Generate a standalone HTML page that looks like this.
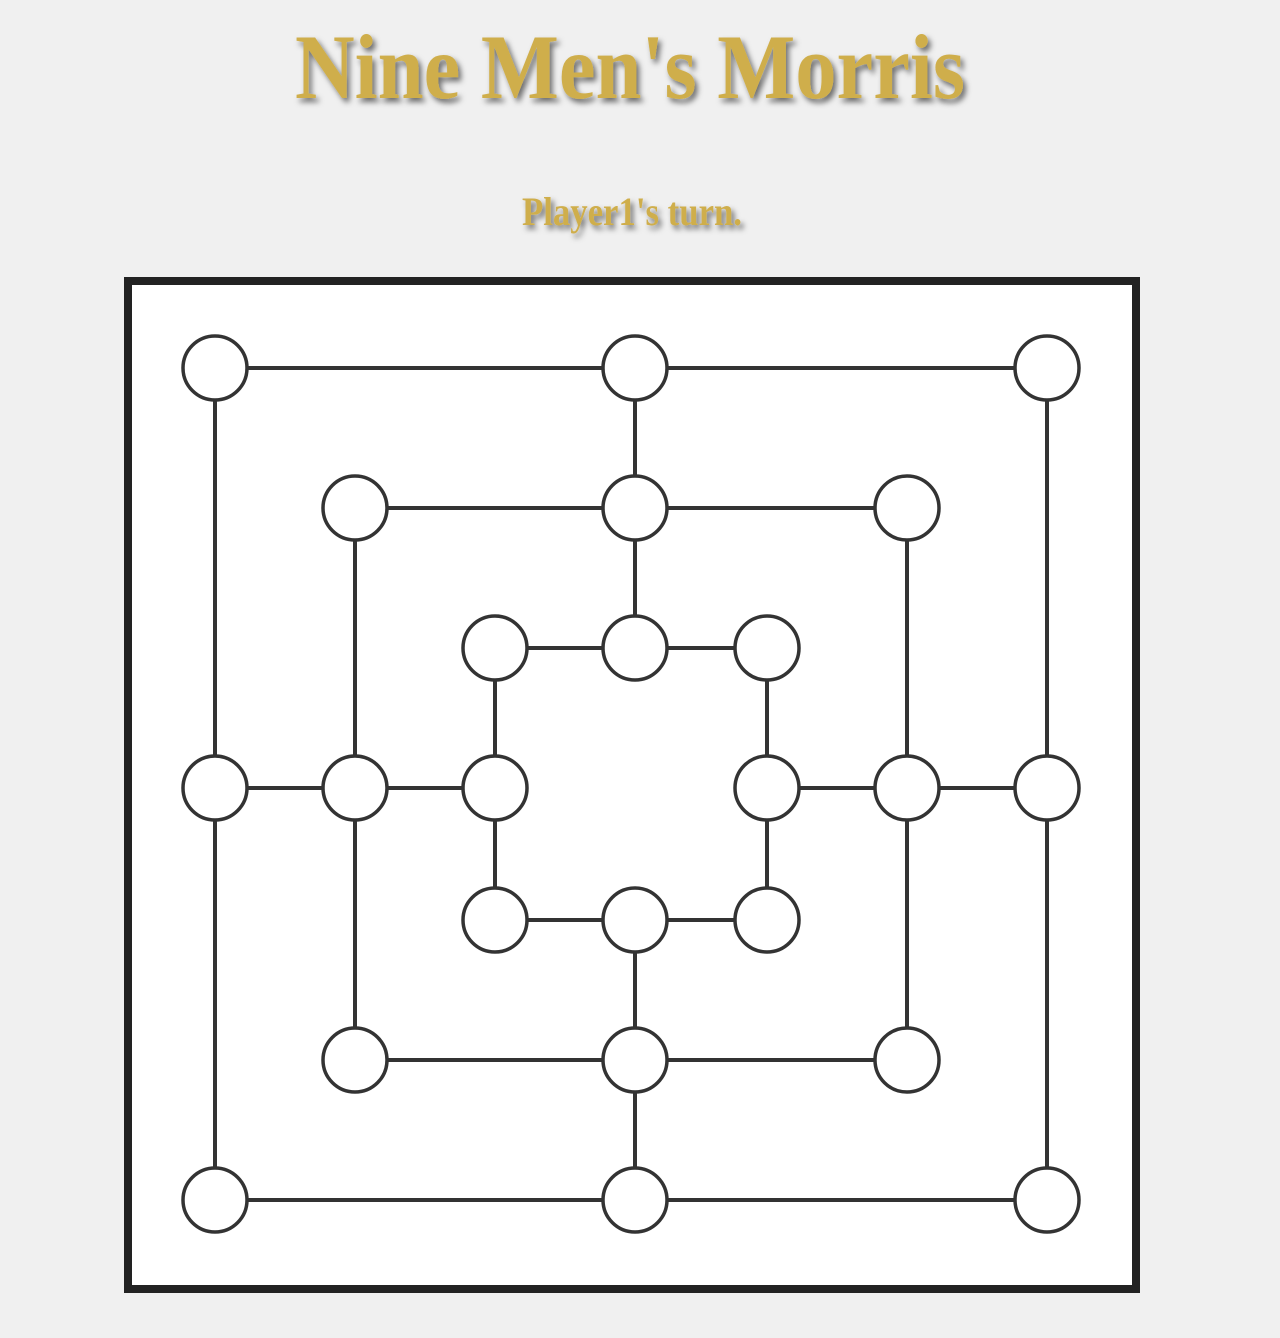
<!DOCTYPE html>
<html><head><meta charset="utf-8"><style>
html,body{margin:0;padding:0;background:#f0f0f0;}
svg{display:block;}
</style></head><body>
<svg width="1280" height="1338" viewBox="0 0 1280 1338">
<defs><filter id="sh" x="-10%" y="-30%" width="120%" height="160%"><feDropShadow dx="3" dy="4" stdDeviation="3" flood-color="#000" flood-opacity="0.55"/></filter></defs>
<text x="295" y="98" textLength="670" lengthAdjust="spacingAndGlyphs" font-family="Liberation Serif, serif" font-weight="bold" font-size="92" fill="#cfae4c" filter="url(#sh)">Nine Men's Morris</text>
<text x="522" y="225" textLength="220" lengthAdjust="spacingAndGlyphs" font-family="Liberation Serif, serif" font-weight="bold" font-size="40" fill="#cfae4c" filter="url(#sh)">Player1's turn.</text>
<rect x="128" y="281" width="1008" height="1008" fill="#fff" stroke="#222" stroke-width="8"/>
<g id="lines" stroke="#333" stroke-width="4" fill="none"></g>
<g id="nodes"></g>
</svg>
<script>
const xs=[215,355,495,635,767,907,1047];
const ys=[368,508,648,788,920,1060,1200];
const points=[[0,0],[3,0],[6,0],[1,1],[3,1],[5,1],[2,2],[3,2],[4,2],[0,3],[1,3],[2,3],[4,3],[5,3],[6,3],[2,4],[3,4],[4,4],[1,5],[3,5],[5,5],[0,6],[3,6],[6,6]];
const edges=[[0,1],[1,2],[3,4],[4,5],[6,7],[7,8],[9,10],[10,11],[12,13],[13,14],[15,16],[16,17],[18,19],[19,20],[21,22],[22,23],[0,9],[9,21],[3,10],[10,18],[6,11],[11,15],[1,4],[4,7],[16,19],[19,22],[8,12],[12,17],[5,13],[13,20],[2,14],[14,23]];
const NS='http://www.w3.org/2000/svg';
const lg=document.getElementById('lines'),ng=document.getElementById('nodes');
edges.forEach(([a,b])=>{const l=document.createElementNS(NS,'line');
l.setAttribute('x1',xs[points[a][0]]);l.setAttribute('y1',ys[points[a][1]]);
l.setAttribute('x2',xs[points[b][0]]);l.setAttribute('y2',ys[points[b][1]]);


lg.appendChild(l);});
points.forEach(([i,j])=>{const c=document.createElementNS(NS,'circle');
c.setAttribute('cx',xs[i]);c.setAttribute('cy',ys[j]);c.setAttribute('r',32);
c.setAttribute('fill','#fff');c.setAttribute('stroke','#333');c.setAttribute('stroke-width','3.5');


ng.appendChild(c);});
</script>
</body></html>
